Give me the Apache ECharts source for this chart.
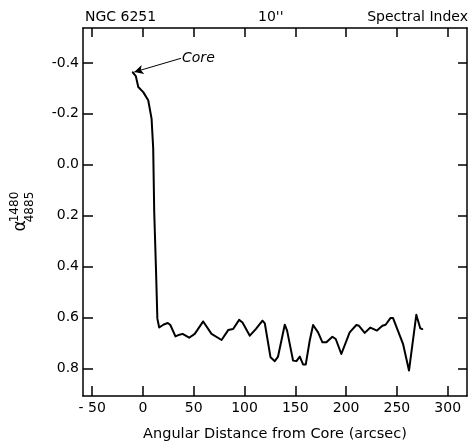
<!DOCTYPE html>
<html>
<head>
<meta charset="utf-8">
<script src="https://cdn.jsdelivr.net/npm/echarts@6/dist/echarts.min.js"></script>
<style>html,body{margin:0;padding:0;background:#fff}#c{width:470px;height:447px}</style>
</head>
<body>
<div id="c"></div>
<script>
var xTicks = [-50, 0, 50, 100, 150, 200, 250, 300];
var yTicks = [-0.4, -0.2, 0.0, 0.2, 0.4, 0.6, 0.8];
var distance = [-10, -7, -4.6, 0.3, 5.2, 8.5, 10.1, 11.1, 12.8, 14.2, 16, 17.5, 20.5, 24.5, 27, 32, 36, 39, 45.5, 51, 59.3, 67.5, 77.4, 83.9, 88.8, 94.7, 98, 105.2, 111.1, 117.7, 120, 125.6, 129.8, 133, 139.6, 141.9, 147.8, 151.1, 154.4, 157.6, 160.3, 164.2, 167.5, 172.4, 176.7, 180.6, 186.5, 189.8, 195.3, 203.5, 210.1, 212.7, 218.3, 223.9, 230.4, 235.7, 238.9, 243.6, 246.2, 256, 261.9, 269.1, 273, 275];
var spectralIndex = [-0.363, -0.348, -0.305, -0.285, -0.253, -0.181, -0.064, 0.184, 0.405, 0.605, 0.64, 0.643, 0.628, 0.622, 0.63, 0.675, 0.668, 0.665, 0.68, 0.665, 0.616, 0.665, 0.689, 0.65, 0.646, 0.61, 0.62, 0.672, 0.646, 0.613, 0.624, 0.757, 0.772, 0.754, 0.629, 0.652, 0.77, 0.772, 0.754, 0.785, 0.785, 0.691, 0.63, 0.659, 0.698, 0.698, 0.676, 0.685, 0.744, 0.659, 0.63, 0.633, 0.661, 0.64, 0.652, 0.633, 0.629, 0.603, 0.603, 0.704, 0.809, 0.59, 0.643, 0.646];
var coreLabel = 'Core';
var coreFrom = [37.5, -0.418];
var coreTo = [-8.5, -0.364];

var FONT = 'DejaVu Sans';
var data = distance.map(function (d, i) { return [d, spectralIndex[i]]; });
var lineSt = { color: '#000', width: 1.5 };
function fmtX(v) { return v < 0 ? '- ' + (-v) : String(v); }
function fmtY(v) { return v < 0 ? '-' + (-v).toFixed(1) : v.toFixed(1); }

var chart = echarts.init(document.getElementById('c'), null, { renderer: 'canvas' });
chart.setOption({
  animation: false,
  backgroundColor: '#fff',
  grid: { left: 83, right: 3, top: 28, bottom: 49 },
  xAxis: [{
    type: 'value', min: -59, max: 319, position: 'bottom',
    axisLine: { show: true, onZero: false, lineStyle: lineSt },
    axisTick: { show: true, inside: true, length: 10, customValues: xTicks, lineStyle: lineSt },
    axisLabel: { customValues: xTicks, formatter: fmtX, color: '#000', fontFamily: FONT, fontSize: 14, margin: 5 },
    splitLine: { show: false },
    name: 'Angular Distance from Core (arcsec)', nameLocation: 'middle', nameGap: 31,
    nameTextStyle: { color: '#000', fontFamily: FONT, fontSize: 14.5 }
  }, {
    type: 'value', min: -59, max: 319, position: 'top',
    axisLine: { show: true, onZero: false, lineStyle: lineSt },
    axisTick: { show: true, inside: true, length: 9, customValues: xTicks, lineStyle: lineSt },
    axisLabel: { show: false, customValues: xTicks },
    splitLine: { show: false }
  }],
  yAxis: [{
    type: 'value', inverse: true, min: -0.537, max: 0.909, position: 'left',
    axisLine: { show: true, onZero: false, lineStyle: lineSt },
    axisTick: { show: true, inside: true, length: 10, customValues: yTicks, lineStyle: lineSt },
    axisLabel: { customValues: yTicks, formatter: fmtY, color: '#000', fontFamily: FONT, fontSize: 14, margin: 4 },
    splitLine: { show: false }
  }, {
    type: 'value', inverse: true, min: -0.537, max: 0.909, position: 'right',
    axisLine: { show: true, onZero: false, lineStyle: lineSt },
    axisTick: { show: true, inside: true, length: 9, customValues: yTicks, lineStyle: lineSt },
    axisLabel: { show: false, customValues: yTicks },
    splitLine: { show: false }
  }],
  series: [{
    type: 'line', data: data, showSymbol: false, symbol: 'none',
    lineStyle: { color: '#000', width: 2, join: 'round', cap: 'round' },
    markLine: {
      silent: true, symbol: ['none', 'arrow'], symbolSize: [7, 9],
      lineStyle: { color: '#000', width: 1, type: 'solid' },
      label: { show: false },
      data: [[{ coord: coreFrom }, { coord: coreTo }]]
    },
    markPoint: {
      silent: true, symbol: 'circle', symbolSize: 0,
      label: { show: true, position: 'right', distance: 1, formatter: coreLabel, color: '#000', fontFamily: FONT, fontStyle: 'italic', fontSize: 14 },
      data: [{ coord: coreFrom }]
    }
  }],
  graphic: [
    { type: 'text', left: 85, top: 10, style: { text: 'NGC 6251', fill: '#000', font: '14px "DejaVu Sans"' } },
    { type: 'text', left: 258, top: 10, style: { text: "10''", fill: '#000', font: '14px "DejaVu Sans"' } },
    { type: 'text', right: 2, top: 10, style: { text: 'Spectral Index', fill: '#000', font: '14px "DejaVu Sans"' } },
    { type: 'text', x: 21, y: 226, rotation: Math.PI / 2, style: { text: 'α', fill: '#000', font: '17px "DejaVu Sans"', textAlign: 'center', textVerticalAlign: 'middle' } },
    { type: 'text', x: 15, y: 207, rotation: Math.PI / 2, style: { text: '1480', fill: '#000', font: '12px "DejaVu Sans"', textAlign: 'center', textVerticalAlign: 'middle' } },
    { type: 'text', x: 30, y: 207, rotation: Math.PI / 2, style: { text: '4885', fill: '#000', font: '12px "DejaVu Sans"', textAlign: 'center', textVerticalAlign: 'middle' } }
  ]
});
</script>
</body>
</html>
